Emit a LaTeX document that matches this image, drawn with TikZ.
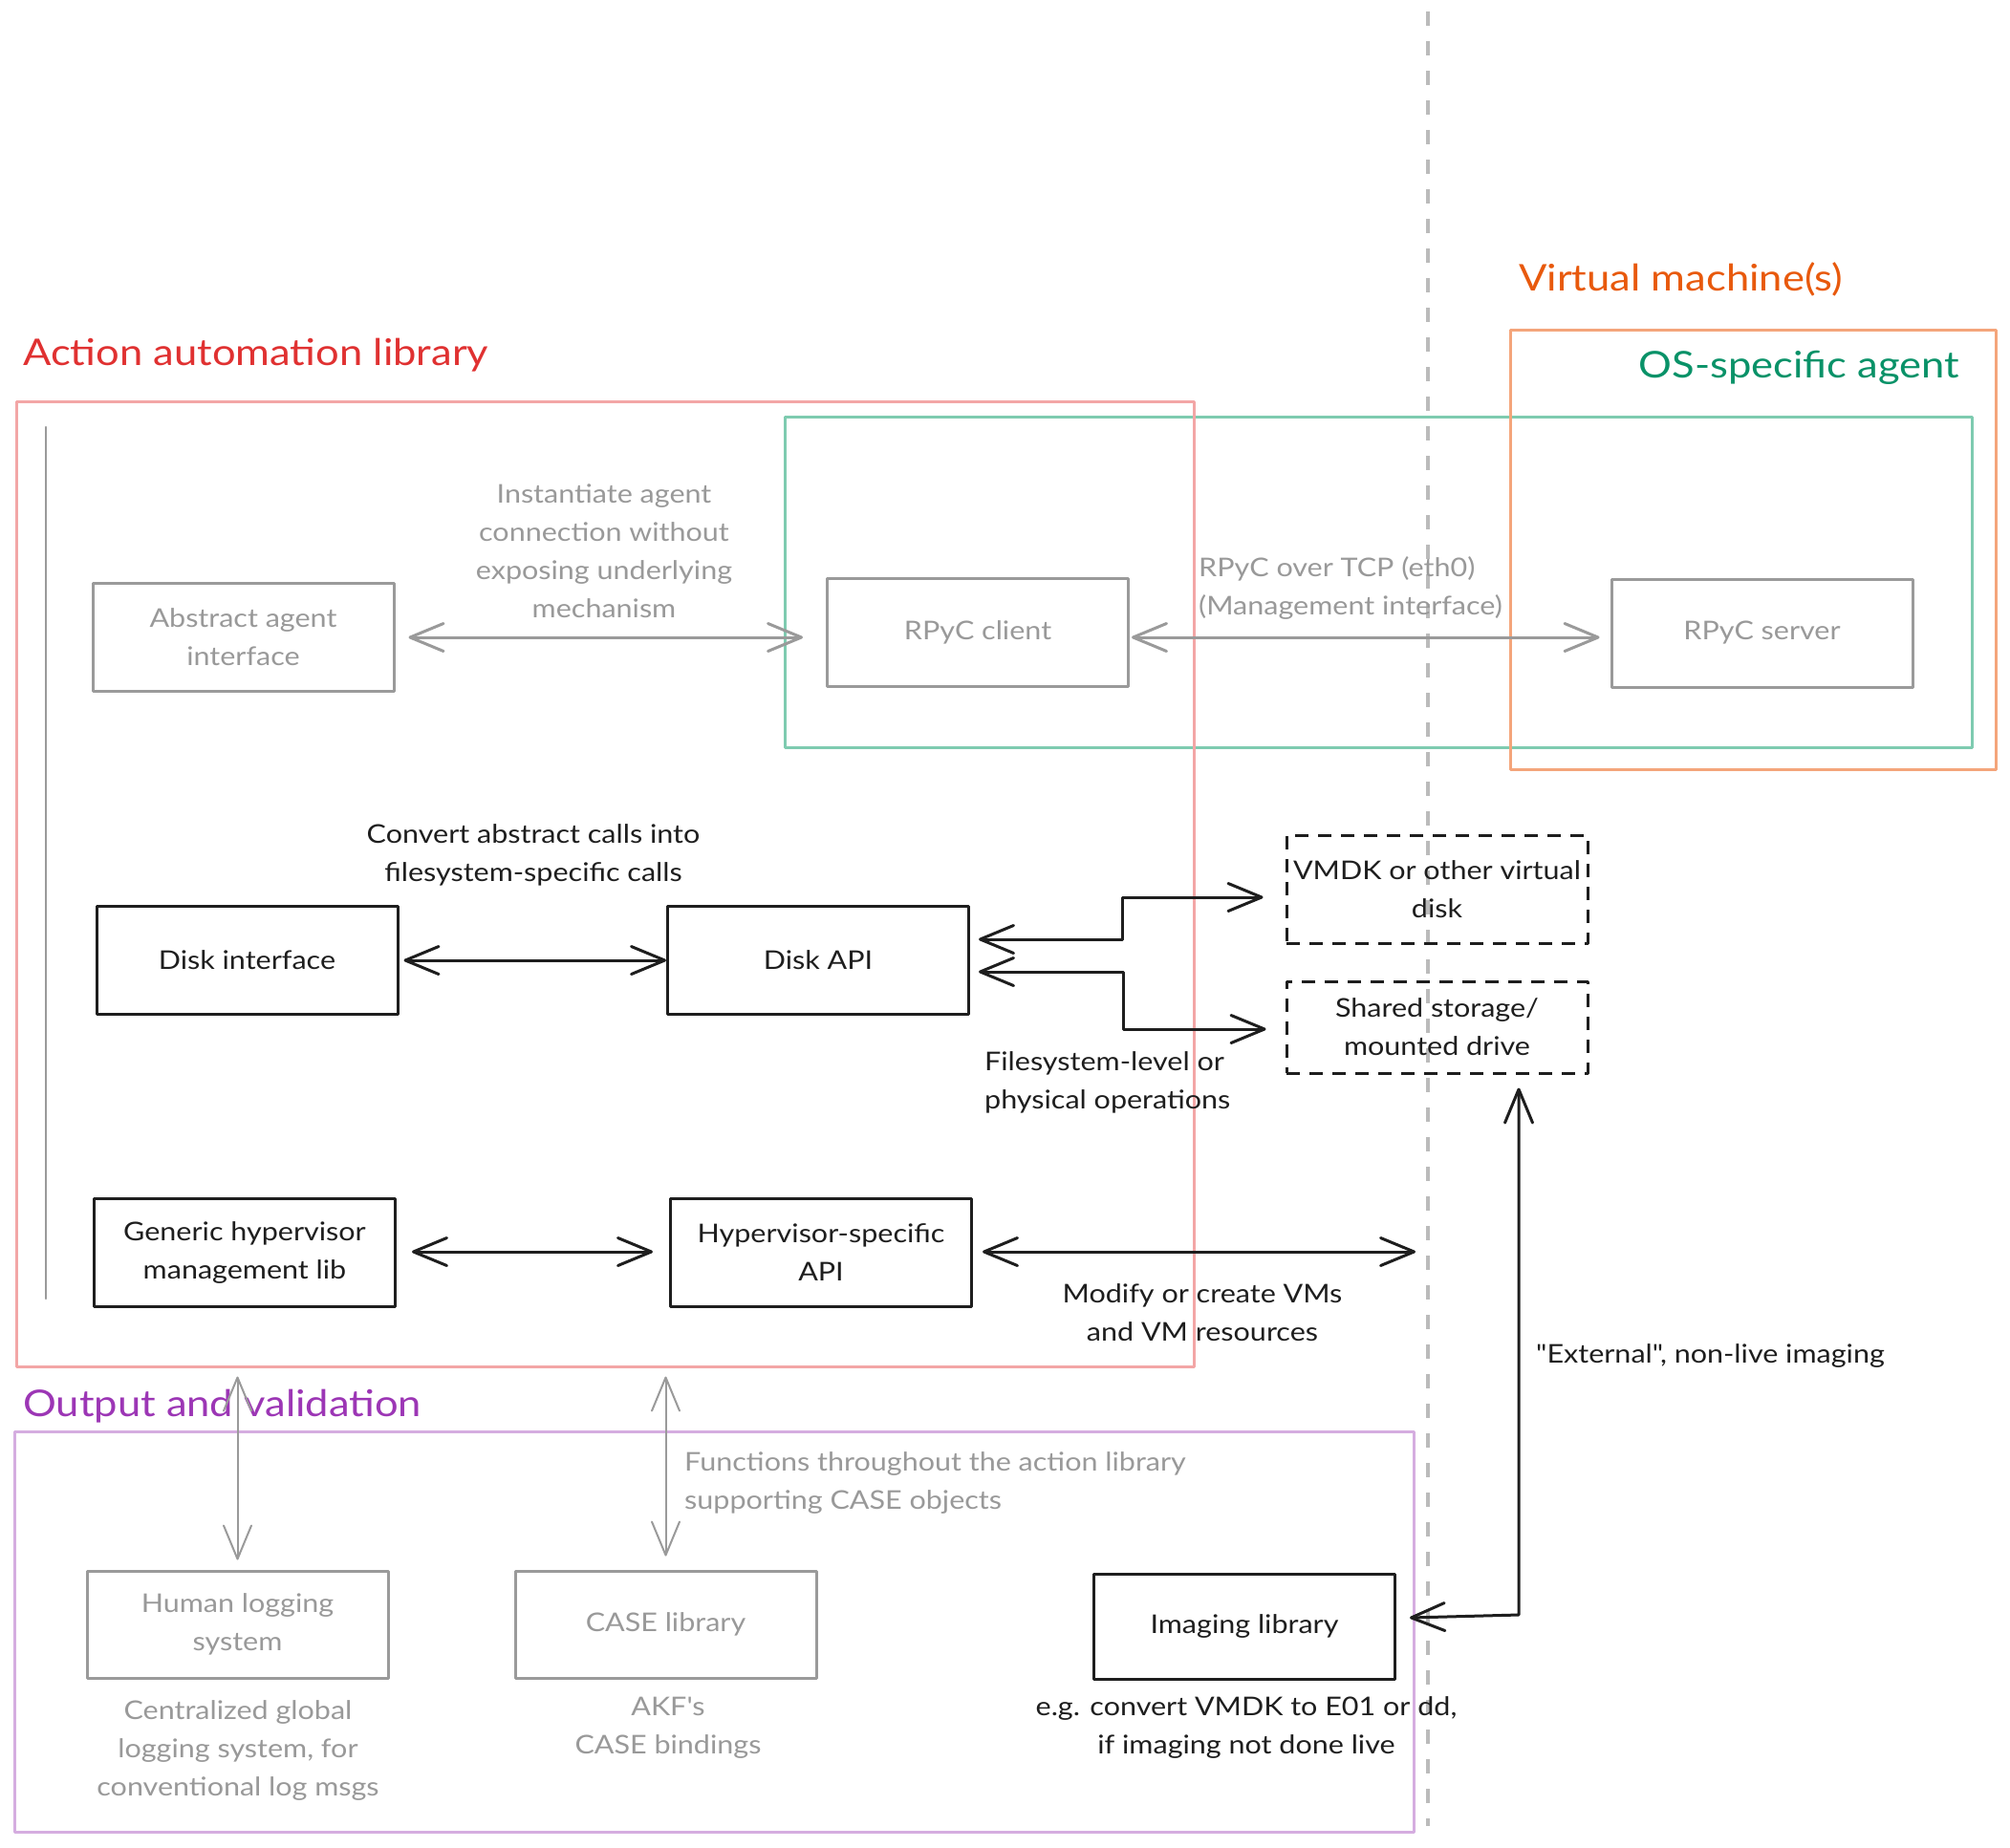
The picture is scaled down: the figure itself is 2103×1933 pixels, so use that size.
\documentclass[tikz,border=0pt]{standalone}
\usepackage{fontspec}
\setmainfont{Lato}[FakeStretch=1.13, Ligatures=TeXOff]
\usetikzlibrary{arrows.meta,calc}
\definecolor{ink}{HTML}{1E1E1E}
\definecolor{gtxt}{HTML}{999999}
\definecolor{gbox}{HTML}{9A9A9A}
\definecolor{redT}{HTML}{E03131}
\definecolor{redF}{HTML}{F3A6A6}
\definecolor{grnT}{HTML}{099268}
\definecolor{grnF}{HTML}{7ECBB0}
\definecolor{orT}{HTML}{E8590C}
\definecolor{orF}{HTML}{F4A57B}
\definecolor{puT}{HTML}{9C36B5}
\definecolor{puF}{HTML}{D5ADE0}
\definecolor{sep}{HTML}{BBBBBB}
\tikzset{
  bar/.tip={Straight Barb[length=35pt,width=29pt,round]},
}
\begin{document}
\begin{tikzpicture}[x=1pt,y=-1pt, line cap=round, line join=round,
 txt/.style={font=\fontsize{27}{40}\selectfont, align=center, inner sep=0pt},
 lbl/.style={txt, yshift=-2.5pt},
 box/.style={draw=ink, line width=3pt, text=ink, minimum width=315pt, minimum height=113pt, txt},
 gbx/.style={box, draw=gbox, text=gtxt},
 dbx/.style={box, line cap=butt, dash pattern=on 14pt off 10pt},
 frame/.style={draw, line width=3pt, inner sep=0pt},
 title/.style={font=\fontsize{38.5}{44}\selectfont, inner sep=0pt},
 conn/.style={draw=ink, line width=3pt, bar-bar},
 gconn/.style={conn, draw=gbox},
 gconnt/.style={conn, draw=gbox, line width=2pt},
]
\fill[white] (0,0) rectangle (2103,1933);
\useasboundingbox (0,0) rectangle (2103,1933);

% frames
\node[frame, draw=grnF, minimum width=1242pt, minimum height=346pt] (agent) at (1442,609) {};
\node[frame, draw=orF, minimum width=508pt, minimum height=460pt] (vm) at (1834,575) {};
\node[frame, draw=redF, minimum width=1232pt, minimum height=1010pt] (lib) at (633,925) {};
\node[frame, draw=puF, minimum width=1464pt, minimum height=419pt] (out) at (747,1707.5) {};

% separator
\draw[sep, line width=3.5pt, line cap=butt, dash pattern=on 15pt off 16pt] (1494,12) -- (1494,1911);
% grey vertical line
\draw[gbox, line width=2.5pt] (48,447) -- (48,1359);

% titles
\node[title, text=redT, anchor=base west] at (24,382) {Action automation library};
\node[title, text=orT, anchor=base west] at (1589,304) {Virtual machine(s)};
\node[title, text=grnT, anchor=base east] at (2050,395) {OS-specific agent};
\node[title, text=puT, anchor=base west] at (24,1482) {Output and validation};

% boxes
\node[gbx] (abs) at (254.5,666.5) {Abstract agent\\interface};
\node[gbx] (cli) at (1023,661.5) {RPyC client};
\node[gbx] (srv) at (1843.5,662.5) {RPyC server};
\node[box] (dif) at (258.5,1004.5) {Disk interface};
\node[box] (dapi) at (856,1004.5) {Disk API};
\node[box] (gen) at (256,1310.5) {Generic hypervisor\\management lib};
\node[box] (hapi) at (859,1310.5) {Hypervisor-specific\\API};
\node[dbx] (vmdk) at (1503.5,930.5) {VMDK or other virtual\\disk};
\node[dbx, minimum height=96pt] (shr) at (1503.5,1075) {Shared storage/\\mounted drive};
\node[gbx, minimum height=112pt] (hum) at (248.5,1700) {Human logging\\system};
\node[gbx, minimum height=112pt] (case) at (696.5,1700) {CASE library};
\node[box, minimum height=110pt] (img) at (1302,1702) {Imaging library};

% labels
\node[lbl, text=gtxt] (linst) at (632,574) {Instantiate agent\\connection without\\exposing underlying\\mechanism};
\node[lbl, text=gtxt, align=left, anchor=west] (lrpyc) at (1254,613) {RPyC over TCP (eth0)\\(Management interface)};
\node[lbl, text=ink] (lconv) at (558,892) {Convert abstract calls into\\filesystem-specific calls};
\node[lbl, text=ink, align=left, anchor=west] (lfs) at (1030,1130) {Filesystem-level or\\physical operations};
\node[lbl, text=ink] (lmod) at (1258,1371) {Modify or create VMs\\and VM resources};
\node[lbl, text=gtxt, align=left, anchor=west] (lfun) at (716,1549) {Functions throughout the action library\\supporting CASE objects};
\node[lbl, text=gtxt] (lcen) at (249,1829) {Centralized global\\logging system, for\\conventional log msgs};
\node[lbl, text=gtxt] (lakf) at (699,1806) {AKF's\\CASE bindings};
\node[lbl, text=ink] (leg) at (1304,1805) {e.g. convert VMDK to E01 or dd,\\if imaging not done live};
\node[lbl, text=ink, anchor=west] (lext) at (1607,1416) {"External", non-live imaging};

% connectors
\draw[gconn] ([xshift=14pt]abs.east |- 0,667) -- ([xshift=-24pt]cli.west |- 0,667);
\draw[gconn] ([xshift=2pt]cli.east |- 0,667) -- ([xshift=-11pt]srv.west |- 0,667);
\draw[conn] ([xshift=5pt]dif.east |- 0,1005) -- (dapi.west |- 0,1005);
\draw[conn] ([xshift=9pt]dapi.east |- 0,983) -| (1174,939) -- ([xshift=-23pt]vmdk.west |- 0,939);
\draw[conn] ([xshift=9pt]dapi.east |- 0,1017) -| (1175,1077) -- ([xshift=-20pt]shr.west |- 0,1077);
\draw[conn] ([xshift=16pt]gen.east |- 0,1310) -- ([xshift=-17pt]hapi.west |- 0,1310);
\coordinate (hend) at (1481,1310);
\draw[conn] ([xshift=10pt]hapi.east |- 0,1310) -- (hend);
\draw[gconnt] ([yshift=-9pt]hum.north |- lib.south) -- ([yshift=10pt]hum.north);
\draw[gconnt] ([yshift=-9pt]case.north |- lib.south) -- ([yshift=14pt]case.north);
\draw[conn] ([xshift=14pt]img.east |- 0,1693) -- (1589,1690) -- ([yshift=-14pt]1589,0 |- shr.south);
\end{tikzpicture}
\end{document}
